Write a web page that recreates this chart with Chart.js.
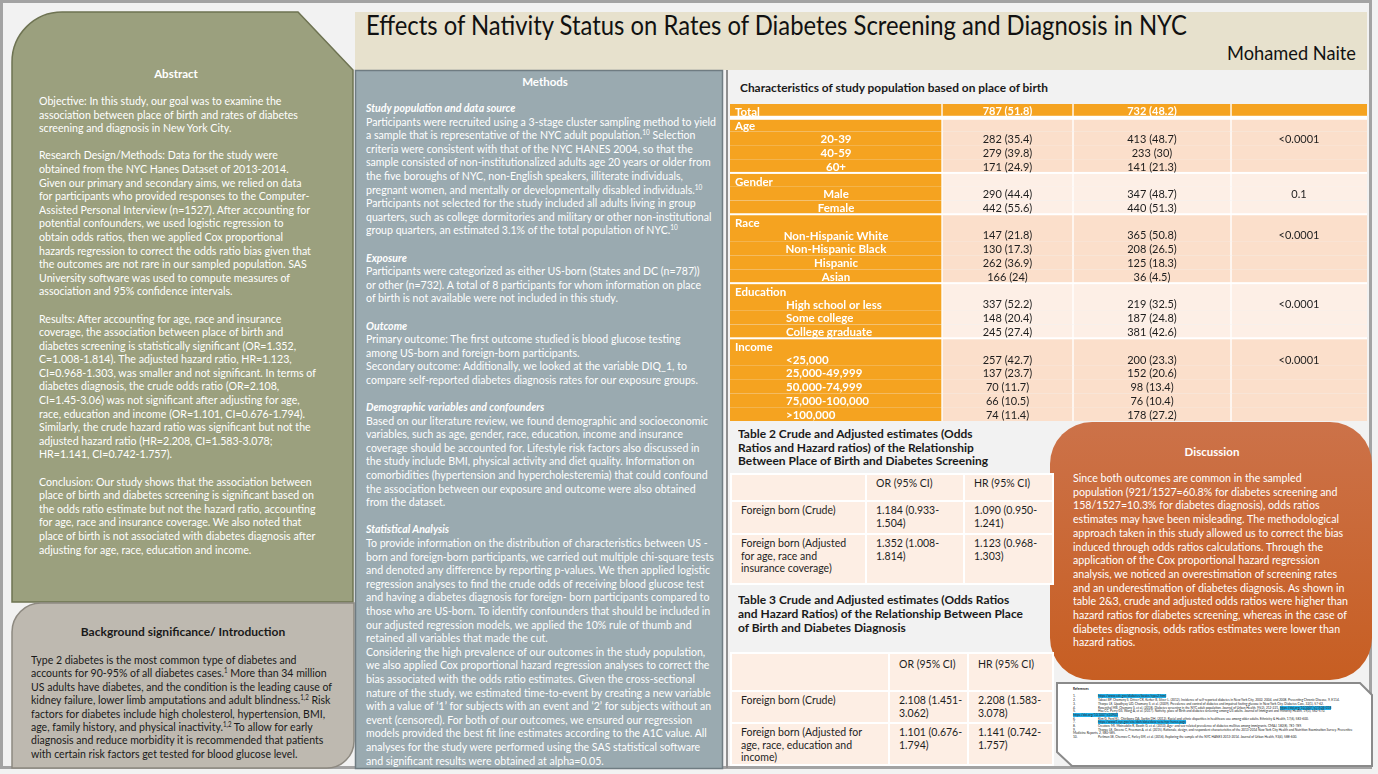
<!DOCTYPE html>
<html>
<head>
<meta charset="utf-8">
<script src="https://cdn.jsdelivr.net/npm/chart.js@4.4.1/dist/chart.umd.min.js"></script>
<style>
  html, body { margin: 0; padding: 0; }
  body {
    width: 1378px; height: 774px; position: relative; overflow: hidden;
    background: #f2f2f2;
    font-family: "Gill Sans", "Gill Sans MT", Lato, sans-serif;
  }
  .abs { position: absolute; }
  .txt { position: absolute; white-space: nowrap; transform-origin: 0 0; line-height: 13.6px; }
  .txt sup { font-size: 7px; line-height: 0; vertical-align: 4px; }
  .head { position: absolute; font-weight: bold; white-space: nowrap; transform: translate(-50%, -50%); }
  .mh { font-weight: bold; font-style: italic; }
  table.est { position: absolute; border-collapse: collapse; table-layout: fixed; font-size: 10.5px; color: #1e1e1e; line-height: 12.5px; }
  table.est td { background: #fdeee4; border: 2px solid #fff; vertical-align: top; padding: 2px 4px 0 9px; }
  #refs { position: absolute; left: 1073px; top: 688px; width: 285px; font-size: 3.2px; line-height: 3.7px; color: #222; }
  #refs .n { display: inline-block; width: 25px; }
  #refs .lnk { background: #21b0ea; }
</style>
</head>
<body>

<svg class="abs" style="left:0;top:0" width="1378" height="774">
  <defs>
    <linearGradient id="disc" x1="0" y1="0" x2="0" y2="1">
      <stop offset="0" stop-color="#cc7249"/>
      <stop offset="1" stop-color="#c75e22"/>
    </linearGradient>
  </defs>
  <!-- outer frame -->
  <rect x="1.5" y="1.5" width="1369" height="766" fill="none" stroke="#a3a3a3" stroke-width="3"/>
  <!-- abstract -->
  <path d="M12,602 L12,62 A50,50 0 0 1 62,12 L298,12 L353,70 L353,602 Z" fill="#9ba07e" stroke="#6e7352" stroke-width="1.5"/>
  <!-- background -->
  <path d="M12,768 L12,632 A29,29 0 0 1 41,603 L354,603 L354,741 A27,27 0 0 1 327,768 Z" fill="#beb9b0" stroke="#8d8980" stroke-width="1.5"/>
  <!-- title band -->
  <rect x="355" y="12" width="1012" height="58" fill="#e7e1cd"/>
  <!-- methods -->
  <rect x="355.5" y="70.5" width="367" height="698" fill="#9aaab0" stroke="#6f7c82" stroke-width="1.5"/>
  <!-- right area border -->
  <line x1="727" y1="70" x2="727" y2="768" stroke="#8f8f8f" stroke-width="2"/>
  <!-- discussion -->
  <rect x="1050" y="422" width="322" height="258" rx="42" ry="42" fill="url(#disc)"/>
  <!-- references -->
  <path d="M1057,683 L1360,683 L1372,695 L1372,766 L1072,766 L1057,752 Z" fill="#ffffff" stroke="#8a8a8a" stroke-width="2"/>
</svg>

<!-- title -->
<div class="txt" data-fit="821" style="left:366px;top:7px;font-size:27px;line-height:36px;color:#111;">Effects of Nativity Status on Rates of Diabetes Screening and Diagnosis in NYC</div>
<div class="txt" data-fit="129" data-right="1356" style="top:42px;font-size:19px;line-height:22px;color:#111;">Mohamed Naite</div>

<!-- abstract -->
<div class="head" style="left:176px;top:73px;font-size:11.5px;color:#fff;">Abstract</div>
<div class="txt" data-fit="277" style="left:39px;top:94px;font-size:11.5px;color:#fff;">Objective: In this study, our goal was to examine the<br>association between place of birth and rates of diabetes<br>screening and diagnosis in New York City.<br><br>Research Design/Methods: Data for the study were<br>obtained from the NYC Hanes Dataset of 2013-2014.<br>Given our primary and secondary aims, we relied on data<br>for participants who provided responses to the Computer-<br>Assisted Personal Interview (n=1527). After accounting for<br>potential confounders, we used logistic regression to<br>obtain odds ratios, then we applied Cox proportional<br>hazards regression to correct the odds ratio bias given that<br>the outcomes are not rare in our sampled population. SAS<br>University software was used to compute measures of<br>association and 95% confidence intervals.<br><br>Results: After accounting for age, race and insurance<br>coverage, the association between place of birth and<br>diabetes screening is statistically significant (OR=1.352,<br>C=1.008-1.814). The adjusted hazard ratio, HR=1.123,<br>CI=0.968-1.303, was smaller and not significant. In terms of<br>diabetes diagnosis, the crude odds ratio (OR=2.108,<br>CI=1.45-3.06) was not significant after adjusting for age,<br>race, education and income (OR=1.101, CI=0.676-1.794).<br>Similarly, the crude hazard ratio was significant but not the<br>adjusted hazard ratio (HR=2.208, CI=1.583-3.078;<br>HR=1.141, CI=0.742-1.757).<br><br>Conclusion: Our study shows that the association between<br>place of birth and diabetes screening is significant based on<br>the odds ratio estimate but not the hazard ratio, accounting<br>for age, race and insurance coverage. We also noted that<br>place of birth is not associated with diabetes diagnosis after<br>adjusting for age, race, education and income.</div>

<!-- background -->
<div class="head" style="left:183px;top:631px;font-size:12px;color:#1a1a1a;">Background significance/ Introduction</div>
<div class="txt" data-fit="301" style="left:31px;top:653px;font-size:12px;line-height:13.4px;color:#1a1a1a;">Type 2 diabetes is the most common type of diabetes and<br>accounts for 90-95% of all diabetes cases.<sup>1</sup> More than 34 million<br>US adults have diabetes, and the condition is the leading cause of<br>kidney failure, lower limb amputations and adult blindness.<sup>1,2</sup> Risk<br>factors for diabetes include high cholesterol, hypertension, BMI,<br>age, family history, and physical inactivity.<sup>1,2</sup> To allow for early<br>diagnosis and reduce morbidity it is recommended that patients<br>with certain risk factors get tested for blood glucose level.</div>

<!-- methods -->
<div class="head" style="left:545px;top:81px;font-size:11.5px;color:#fff;">Methods</div>
<div class="txt" data-fit="350" style="left:366px;top:101px;font-size:11.5px;color:#fff;"><span class="mh">Study population and data source</span><br>Participants were recruited using a 3-stage cluster sampling method to yield<br>a sample that is representative of the NYC adult population.<sup>10</sup> Selection<br>criteria were consistent with that of the NYC HANES 2004, so that the<br>sample consisted of non-institutionalized adults age 20 years or older from<br>the five boroughs of NYC, non-English speakers, illiterate individuals,<br>pregnant women, and mentally or developmentally disabled individuals.<sup>10</sup><br>Participants not selected for the study included all adults living in group<br>quarters, such as college dormitories and military or other non-institutional<br>group quarters, an estimated 3.1% of the total population of NYC.<sup>10</sup><br><br><span class="mh">Exposure</span><br>Participants were categorized as either US-born (States and DC (n=787))<br>or other (n=732). A total of 8 participants for whom information on place<br>of birth is not available were not included in this study.<br><br><span class="mh">Outcome</span><br>Primary outcome: The first outcome studied is blood glucose testing<br>among US-born and foreign-born participants.<br>Secondary outcome: Additionally, we looked at the variable DIQ_1, to<br>compare self-reported diabetes diagnosis rates for our exposure groups.<br><br><span class="mh">Demographic variables and confounders</span><br>Based on our literature review, we found demographic and socioeconomic<br>variables, such as age, gender, race, education, income and insurance<br>coverage should be accounted for. Lifestyle risk factors also discussed in<br>the study include BMI, physical activity and diet quality. Information on<br>comorbidities (hypertension and hypercholesteremia) that could confound<br>the association between our exposure and outcome were also obtained<br>from the dataset.<br><br><span class="mh">Statistical Analysis</span><br>To provide information on the distribution of characteristics between US -<br>born and foreign-born participants, we carried out multiple chi-square tests<br>and denoted any difference by reporting p-values. We then applied logistic<br>regression analyses to find the crude odds of receiving blood glucose test<br>and having a diabetes diagnosis for foreign- born participants compared to<br>those who are US-born. To identify confounders that should be included in<br>our adjusted regression models, we applied the 10% rule of thumb and<br>retained all variables that made the cut.<br>Considering the high prevalence of our outcomes in the study population,<br>we also applied Cox proportional hazard regression analyses to correct the<br>bias associated with the odds ratio estimates. Given the cross-sectional<br>nature of the study, we estimated time-to-event by creating a new variable<br>with a value of ‘1’ for subjects with an event and ‘2’ for subjects without an<br>event (censored). For both of our outcomes, we ensured our regression<br>models provided the best fit line estimates according to the A1C value. All<br>analyses for the study were performed using the SAS statistical software<br>and significant results were obtained at alpha=0.05.</div>

<!-- table 1 -->
<div class="txt" data-fit="308" style="left:740px;top:81px;font-size:11.5px;font-weight:bold;color:#1a1a1a;">Characteristics of study population based on place of birth</div>
<canvas id="table1" width="637" height="317" style="position:absolute;left:730px;top:104px;"></canvas>

<!-- table 2 -->
<div class="txt" data-fit="250" style="left:738px;top:427px;font-size:11.5px;font-weight:bold;color:#1a1a1a;">Table 2 Crude and Adjusted estimates (Odds<br>Ratios and Hazard ratios) of the Relationship<br>Between Place of Birth and Diabetes Screening</div>
<table class="est" id="table2" style="left:730px;top:473px;width:322px;"></table>

<!-- table 3 -->
<div class="txt" data-fit="285" style="left:738px;top:593px;font-size:11.5px;line-height:14px;font-weight:bold;color:#1a1a1a;">Table 3 Crude and Adjusted estimates (Odds Ratios<br>and Hazard Ratios) of the Relationship Between Place<br>of Birth and Diabetes Diagnosis</div>
<table class="est" id="table3" style="left:730px;top:652px;width:322px;"></table>

<!-- discussion -->
<div class="head" style="left:1212px;top:451px;font-size:11.5px;color:#fff;">Discussion</div>
<div class="txt" data-fit="275" style="left:1073px;top:471px;font-size:11.5px;line-height:13.7px;color:#fff;">Since both outcomes are common in the sampled<br>population (921/1527=60.8% for diabetes screening and<br>158/1527=10.3% for diabetes diagnosis), odds ratios<br>estimates may have been misleading. The methodological<br>approach taken in this study allowed us to correct the bias<br>induced through odds ratios calculations. Through the<br>application of the Cox proportional hazard regression<br>analysis, we noticed an overestimation of screening rates<br>and an underestimation of diabetes diagnosis. As shown in<br>table 2&amp;3, crude and adjusted odds ratios were higher than<br>hazard ratios for diabetes screening, whereas in the case of<br>diabetes diagnosis, odds ratios estimates were lower than<br>hazard ratios.</div>

<!-- references -->
<div id="refs">
  <b>References</b><br><br>
  <span class="n">1.</span><span class="lnk">https://www.cdc.gov/diabetes/basics/type2.html</span><br>
  <span class="n">2.</span>Tabaei BP, Chamany S, Driver CR, Kerker B, Silver L. (2012). Incidence of self-reported diabetes in New York City, 2002, 2004, and 2008. Preventing Chronic Disease, 9, E114.<br>
  <span class="n">3.</span>Thorpe LE, Upadhyay UD, Chamany S, et al. (2009). Prevalence and control of diabetes and impaired fasting glucose in New York City. Diabetes Care, 32(1), 57-62.<br>
  <span class="n">4.</span>Rosenthal MB, Chamany S, et al. (2018). Diabetes screening in the NYC adult population. Journal of Urban Health, 95(2), 212-221. <span class="lnk">https://doi.org/10.1007/s11524-018</span><br>
  <span class="n">5.</span>Hsu CC, Perry GS, Wang A, et al. (2017). Nativity, place of birth and diabetes screening among US adults. Journal of Immigrant and Minority Health, 19(3), 562-570. <span class="lnk">https://doi.org/10.1007/s10903</span><br>
  <span class="n">6.</span>Kim G, Ford KL, Chiriboga DA, Sorkin DH. (2012). Racial and ethnic disparities in healthcare use among older adults. Ethnicity &amp; Health, 17(6), 583-600.<br>
  <span class="n">7.</span><span class="lnk">https://www1.nyc.gov/site/doh/data/data-sets/nyc-hanes.page</span><br>
  <span class="n">8.</span>Creatore MI, Moineddin R, Booth G, et al. (2010). Age- and sex-related prevalence of diabetes mellitus among immigrants. CMAJ, 182(8), 781-789.<br>
  <span class="n">9.</span>Thorpe LE, Greene C, Freeman A, et al. (2015). Rationale, design, and respondent characteristics of the 2013-2014 New York City Health and Nutrition Examination Survey. Preventive Medicine Reports, 2, 580-585.<br>
  <span class="n">10.</span>Perlman SE, Chernov C, Farley SM, et al. (2016). Exploring the sample of the NYC HANES 2013-2014. Journal of Urban Health, 93(4), 588-600.
</div>

<script>
// ---- Table 1: characteristics by place of birth ----
const totalUS = "787 (51.8)";
const totalFB = "732 (48.2)";

const ageCats = ["20-39", "40-59", "60+"];
const ageUS = ["282 (35.4)", "279 (39.8)", "171 (24.9)"];
const ageFB = ["413 (48.7)", "233 (30)", "141 (21.3)"];
const ageP = "<0.0001";

const genderCats = ["Male", "Female"];
const genderUS = ["290 (44.4)", "442 (55.6)"];
const genderFB = ["347 (48.7)", "440 (51.3)"];
const genderP = "0.1";

const raceCats = ["Non-Hispanic White", "Non-Hispanic Black", "Hispanic", "Asian"];
const raceUS = ["147 (21.8)", "130 (17.3)", "262 (36.9)", "166 (24)"];
const raceFB = ["365 (50.8)", "208 (26.5)", "125 (18.3)", "36 (4.5)"];
const raceP = "<0.0001";

const eduCats = ["High school or less", "Some college", "College graduate"];
const eduUS = ["337 (52.2)", "148 (20.4)", "245 (27.4)"];
const eduFB = ["219 (32.5)", "187 (24.8)", "381 (42.6)"];
const eduP = "<0.0001";

const incomeCats = ["<25,000", "25,000-49,999", "50,000-74,999", "75,000-100,000", ">100,000"];
const incomeUS = ["257 (42.7)", "137 (23.7)", "70 (11.7)", "66 (10.5)", "74 (11.4)"];
const incomeFB = ["200 (23.3)", "152 (20.6)", "98 (13.4)", "76 (10.4)", "178 (27.2)"];
const incomeP = "<0.0001";

// ---- Tables 2 and 3: OR / HR estimates ----
const estHeaders = ["", "OR (95% CI)", "HR (95% CI)"];
const t2Labels = ["Foreign born (Crude)", "Foreign born (Adjusted for age, race and insurance coverage)"];
const t2OR = ["1.184 (0.933-1.504)", "1.352 (1.008-1.814)"];
const t2HR = ["1.090 (0.950-1.241)", "1.123 (0.968-1.303)"];
const t3Labels = ["Foreign born (Crude)", "Foreign born (Adjusted for age, race, education and income)"];
const t3OR = ["2.108 (1.451-3.062)", "1.101 (0.676-1.794)"];
const t3HR = ["2.208 (1.583-3.078)", "1.141 (0.742-1.757)"];

// layout for table 1 (canvas units = pixels)
const colEdges = [0, 212, 343, 501, 637];
const ORANGE = "#f5a320";
const PEACH_DARK = "#fbdfcb";
const PEACH_LIGHT = "#fdefe6";

// build rows from the arrays above
const rows = [{ kind: "total", label: "Total", us: totalUS, fb: totalFB, p: "", shade: ORANGE }];
function addGroup(name, cats, us, fb, p, shade, align) {
  rows.push({ kind: "group", label: name, us: "", fb: "", p: "", shade: shade });
  cats.forEach((c, i) => {
    rows.push({ kind: "item", label: c, us: us[i], fb: fb[i], p: i === 0 ? p : "", shade: shade, align: align });
  });
}
addGroup("Age", ageCats, ageUS, ageFB, ageP, PEACH_DARK, "center");
addGroup("Gender", genderCats, genderUS, genderFB, genderP, PEACH_LIGHT, "center");
addGroup("Race", raceCats, raceUS, raceFB, raceP, PEACH_DARK, "center");
addGroup("Education", eduCats, eduUS, eduFB, eduP, PEACH_LIGHT, "left");
addGroup("Income", incomeCats, incomeUS, incomeFB, incomeP, PEACH_DARK, "left");

const datasets = [0, 1, 2, 3].map((c) => ({
  data: rows.map(() => [colEdges[c], colEdges[c + 1]]),
  backgroundColor: rows.map((r) => (c === 0 || r.kind === "total" ? ORANGE : r.shade)),
  borderColor: "#ffffff",
  borderWidth: { left: c > 0 ? 1 : 0, right: c < 3 ? 1 : 0, top: 0, bottom: 0 },
  borderSkipped: false,
  barPercentage: 1,
  categoryPercentage: 1,
  grouped: false,
}));

// separators and cell text, placed through the chart's scales
const tableText = {
  id: "tableText",
  afterDatasetsDraw(chart) {
    const ctx = chart.ctx;
    const x = chart.scales.x;
    const y = chart.scales.y;
    const step = y.getPixelForValue(1) - y.getPixelForValue(0);
    ctx.save();
    // white separators between groups
    ctx.fillStyle = "#ffffff";
    rows.forEach((r, i) => {
      if (r.kind === "group") {
        const yy = y.getPixelForValue(i) - step / 2;
        const h = i === 1 ? 4 : 2;
        ctx.fillRect(x.left, yy - h / 2, x.right - x.left, h);
      }
    });
    ctx.textBaseline = "middle";
    const colMid = (c) => (x.getPixelForValue(colEdges[c]) + x.getPixelForValue(colEdges[c + 1])) / 2;
    rows.forEach((r, i) => {
      const yy = y.getPixelForValue(i) + (r.kind === "group" ? 2 : 1);
      // label column
      ctx.fillStyle = "#ffffff";
      ctx.font = "bold 11.5px Lato, sans-serif";
      if (r.kind === "item" && r.align === "center") {
        ctx.textAlign = "center";
        ctx.fillText(r.label, colMid(0), yy);
      } else if (r.kind === "item") {
        ctx.textAlign = "left";
        ctx.fillText(r.label, x.getPixelForValue(colEdges[0]) + 56, yy);
      } else {
        ctx.textAlign = "left";
        ctx.fillText(r.label, x.getPixelForValue(colEdges[0]) + 5, yy);
      }
      // value columns
      ctx.textAlign = "center";
      ctx.font = (r.kind === "total" ? "bold " : "") + "11px Lato, sans-serif";
      ctx.fillStyle = r.kind === "total" ? "#ffffff" : "#1e1e1e";
      [r.us, r.fb, r.p].forEach((v, k) => {
        if (v) ctx.fillText(v, colMid(k + 1), yy);
      });
    });
    ctx.restore();
  },
};

new Chart(document.getElementById("table1"), {
  type: "bar",
  data: { labels: rows.map((r) => r.label), datasets: datasets },
  options: {
    indexAxis: "y",
    responsive: false,
    animation: false,
    events: [],
    layout: { padding: 0 },
    plugins: { legend: { display: false }, tooltip: { enabled: false } },
    scales: {
      x: { type: "linear", min: colEdges[0], max: colEdges[colEdges.length - 1], display: false },
      y: { type: "category", display: false, offset: true, grid: { display: false } },
    },
  },
  plugins: [tableText],
});

// ---- HTML tables 2 and 3 ----
function ci(v) {
  return v.replace("-", "-<br>");
}
function buildEst(id, labels, or, hr, colW, rowH, labelPadRight) {
  const t = document.getElementById(id);
  let html = "<colgroup>" + colW.map((w) => '<col style="width:' + w + 'px">').join("") + "</colgroup>";
  html += '<tr style="height:' + rowH[0] + 'px">' + estHeaders.map((h) => "<td>" + h + "</td>").join("") + "</tr>";
  labels.forEach((l, i) => {
    html += '<tr style="height:' + rowH[i + 1] + 'px"><td style="padding-right:' + labelPadRight + 'px">' + l +
      "</td><td>" + ci(or[i]) + "</td><td>" + ci(hr[i]) + "</td></tr>";
  });
  t.innerHTML = html;
}
buildEst("table2", t2Labels, t2OR, t2HR, [135, 98, 89], [27, 33, 50], 4);
buildEst("table3", t3Labels, t3OR, t3HR, [158, 79, 85], [38, 32, 41], 24);
document.querySelector("#table3 tr").querySelectorAll("td").forEach((td) => (td.style.paddingTop = "4px"));

// ---- squeeze text blocks to the reference widths ----
document.querySelectorAll("[data-fit]").forEach((el) => {
  const w = +el.dataset.fit;
  const nat = el.getBoundingClientRect().width;
  el.style.transform = "scaleX(" + w / nat + ")";
  if (el.dataset.right) el.style.left = +el.dataset.right - w + "px";
});
</script>
</body>
</html>
